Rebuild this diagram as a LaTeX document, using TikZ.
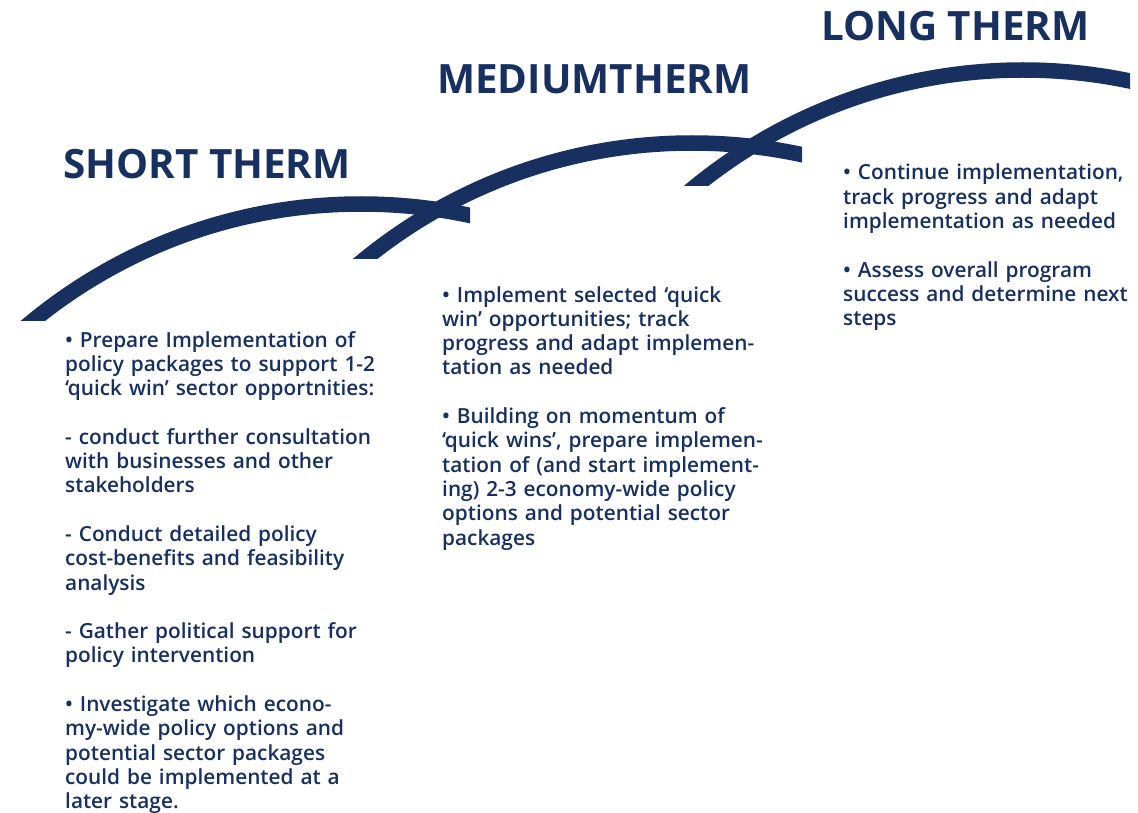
\documentclass[tikz,border=0pt]{standalone}
\usepackage{fontspec}
\setmainfont{Open Sans}
\IfFontExistsTF{Open Sans Semibold}{%
  \newfontfamily\bodyf{Open Sans Semibold}}{%
  \IfFontExistsTF{Open Sans SemiBold}{%
    \newfontfamily\bodyf{Open Sans SemiBold}}{%
    \newcommand\bodyf{\bfseries}}}
\definecolor{navy}{RGB}{23,48,96}
\tikzset{
  arcline/.style={draw=navy, line width=15.5pt},
  heading/.style={anchor=base west, inner sep=0pt, text=navy, font=\fontsize{40.4pt}{44pt}\selectfont\bfseries},
  bodytext/.style={anchor=base west, inner sep=0pt, text=navy, text width=360pt, align=left,
    font=\bodyf\fontsize{20.8pt}{24.3pt}\selectfont}
}
\begin{document}
\begin{tikzpicture}[x=1pt,y=-1pt]
\useasboundingbox (0,0) rectangle (1138,813);
\fill[white] (0,0) rectangle (1138,813);
% arcs
\begin{scope}
  \clip (0,0) rectangle (470,320);
  \draw[arcline] (361,723) circle (519pt);
\end{scope}
\begin{scope}
  \clip (0,0) rectangle (802,259);
  \draw[arcline] (692,662) circle (519pt);
\end{scope}
\begin{scope}
  \clip (0,0) rectangle (1130,186);
  \draw[arcline] (1023,589) circle (519pt);
\end{scope}
% headings
\node[heading] (hshort) at (63,179) {SHORT THERM};
\node[heading] (hmed) at (437,94) {MEDIUMTHERM};
\node[heading] (hlong) at (821,41) {LONG THERM};
% body texts
\node[bodytext] (tshort) at (65,347) {%
• Prepare Implementation of\\
policy packages to support 1-2\\
‘quick win’ sector opportnities:\\[24.3pt]
- conduct further consultation\\
with businesses and other\\
stakeholders\\[24.3pt]
- Conduct detailed policy\\
cost-benefits and feasibility\\
analysis\\[24.3pt]
- Gather political support for\\
policy intervention\\[24.3pt]
• Investigate which econo-\\
my-wide policy options and\\
potential sector packages\\
could be implemented at a\\
later stage.};
\node[bodytext] (tmed) at (442,302) {%
• Implement selected ‘quick\\
win’ opportunities; track\\
progress and adapt implemen-\\
tation as needed\\[24.3pt]
• Building on momentum of\\
‘quick wins’, prepare implemen-\\
tation of (and start implement-\\
ing) 2-3 economy-wide policy\\
options and potential sector\\
packages};
\node[bodytext] (tlong) at (843,180) {%
• Continue implementation,\\
track progress and adapt\\
implementation as needed\\[24.3pt]
• Assess overall program\\
success and determine next\\
steps};
\end{tikzpicture}
\end{document}
